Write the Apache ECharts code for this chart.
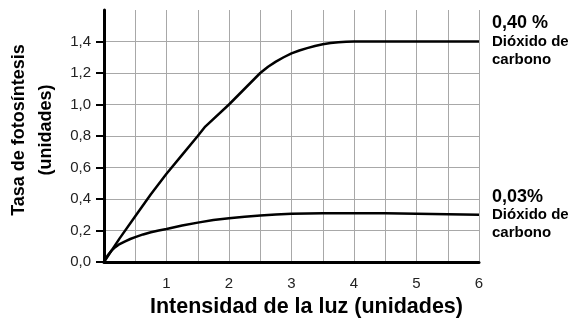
<!DOCTYPE html>
<html>
<head>
<meta charset="utf-8">
<script src="https://cdn.jsdelivr.net/npm/echarts@6/dist/echarts.min.js"></script>
<style>html,body{margin:0;padding:0;background:#fff}#c{width:580px;height:325px}</style>
</head>
<body>
<div id="c"></div>
<script>
var xTickLabels = [1, 2, 3, 4, 5, 6];
var yTickValues = [0, 0.2, 0.4, 0.6, 0.8, 1.0, 1.2, 1.4];
var highCO2 = [[0,0],[0.25,0.15],[0.5,0.29],[0.75,0.43],[1,0.56],[1.25,0.68],[1.5,0.8],[1.62,0.86],[2,1.0],[2.25,1.1],[2.5,1.2],[2.625,1.24],[2.75,1.272],[2.875,1.3],[3,1.325],[3.125,1.343],[3.25,1.358],[3.375,1.371],[3.5,1.382],[3.625,1.39],[3.75,1.395],[3.875,1.399],[4,1.4],[5,1.4],[6,1.4]];
var lowCO2 = [[0,0],[0.03,0.024],[0.07,0.048],[0.12,0.072],[0.18,0.094],[0.25,0.114],[0.33,0.13],[0.42,0.146],[0.5,0.158],[0.625,0.175],[0.75,0.189],[0.875,0.2],[1,0.21],[1.25,0.232],[1.5,0.25],[1.75,0.266],[2,0.278],[2.25,0.288],[2.5,0.296],[2.75,0.302],[3,0.306],[3.5,0.31],[4,0.31],[4.5,0.309],[5,0.306],[5.5,0.303],[6,0.3]];
var highLabel = ['0,40 %', 'Dióxido de', 'carbono'];
var lowLabel = ['0,03%', 'Dióxido de', 'carbono'];
var xName = 'Intensidad de la luz (unidades)';
var yName = 'Tasa de fotosíntesis\n(unidades)';

var FONT = '"Liberation Sans", Arial, sans-serif';
function endLbl(lines){
  return {
    show: true, distance: 13, align: 'left', verticalAlign: 'middle',
    formatter: '{a|' + lines[0] + '}\n{b|' + lines[1] + '}\n{b|' + lines[2] + '}',
    rich: {
      a: {fontFamily: FONT, fontWeight: 'bold', fontSize: 18, color: '#000', lineHeight: 18},
      b: {fontFamily: FONT, fontWeight: 'bold', fontSize: 15, color: '#000', lineHeight: 18}
    }
  };
}
var chart = echarts.init(document.getElementById('c'), null, {renderer: 'canvas'});
chart.setOption({
  animation: false,
  grid: {left: 104, right: 101, top: 10, bottom: 63, containLabel: false, outerBoundsMode: 'none'},
  xAxis: {
    type: 'value', min: 0, max: 6, interval: 0.5,
    name: xName, nameLocation: 'middle', nameGap: 30,
    nameTextStyle: {fontFamily: FONT, fontWeight: 'bold', fontSize: 21.5, color: '#000', padding: [0,0,0,30]},
    axisLine: {show: true, lineStyle: {color: '#000', width: 3}},
    axisTick: {show: false},
    axisLabel: {
      margin: 14, fontFamily: FONT, fontSize: 15, color: '#222',
      formatter: function(v){ return xTickLabels.indexOf(v) >= 0 ? String(v) : ''; }
    },
    splitLine: {show: true, lineStyle: {color: '#a8a8a8', width: 1}}
  },
  yAxis: {
    type: 'value', min: 0, max: 1.6, interval: 0.2,
    name: yName, nameLocation: 'middle', nameGap: 44, nameRotate: 90,
    nameTextStyle: {fontFamily: FONT, fontWeight: 'bold', fontSize: 18, color: '#000', lineHeight: 27, padding: [0,0,0,12]},
    axisLine: {show: true, lineStyle: {color: '#000', width: 3}},
    axisTick: {show: true, length: 8, lineStyle: {color: '#000', width: 2}, customValues: yTickValues},
    axisLabel: {
      margin: 13, fontFamily: FONT, fontSize: 15, color: '#222',
      customValues: yTickValues,
      formatter: function(v){ return v.toFixed(1).replace('.', ','); }
    },
    splitLine: {show: true, lineStyle: {color: '#a8a8a8', width: 1}}
  },
  series: [
    {type: 'line', data: highCO2, smooth: false, showSymbol: false,
     lineStyle: {color: '#000', width: 2.5}, endLabel: endLbl(highLabel)},
    {type: 'line', data: lowCO2, smooth: false, showSymbol: false,
     lineStyle: {color: '#000', width: 2.5}, endLabel: endLbl(lowLabel)}
  ]
});
</script>
</body>
</html>
